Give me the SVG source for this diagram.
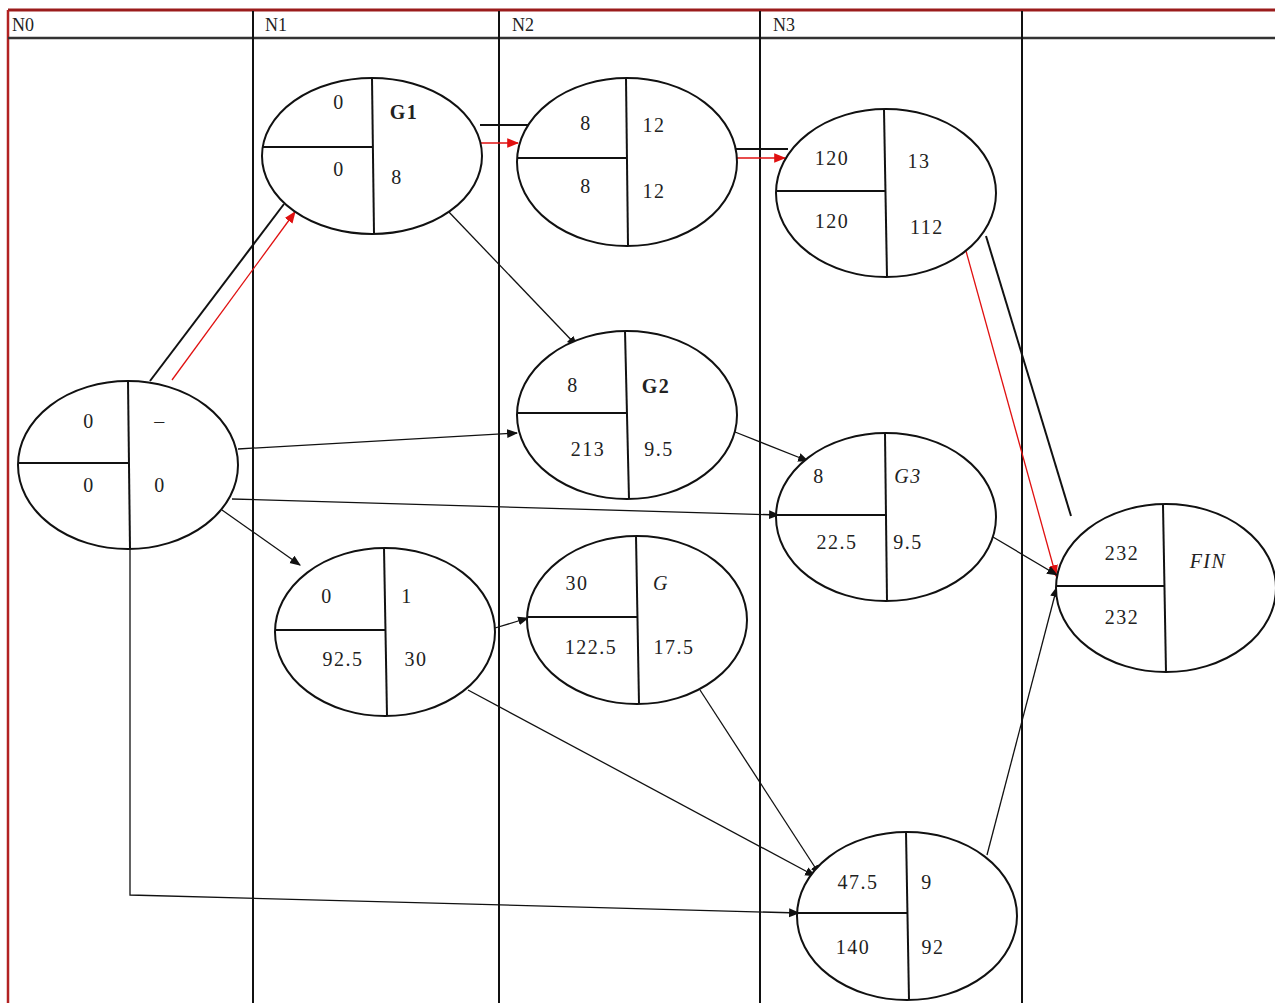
<svg xmlns="http://www.w3.org/2000/svg" width="1275" height="1003" viewBox="0 0 1275 1003">
<style>
.grid{stroke:#111;stroke-width:2;fill:none}
.hdr{font-family:"Liberation Serif",serif;font-size:18px;fill:#222}
.ell{fill:#fff;stroke:#111;stroke-width:2}
.div{stroke:#111;stroke-width:2;fill:none}
.t{font-family:"Liberation Serif",serif;font-size:20px;letter-spacing:1.5px;fill:#222;text-anchor:middle}
.it{font-style:italic}
.c{stroke:#111;stroke-width:1.3;fill:none}
.cb{stroke:#111;stroke-width:2;fill:none}
.r{stroke:#e01010;stroke-width:1.3;fill:none}
</style>
<defs>
<marker id="ab" viewBox="0 0 10 10" refX="9" refY="5" markerWidth="11" markerHeight="11" markerUnits="userSpaceOnUse" orient="auto"><path d="M0,1 L10,5 L0,9 z" fill="#111"/></marker>
<marker id="ar" viewBox="0 0 10 10" refX="9" refY="5" markerWidth="12" markerHeight="12" markerUnits="userSpaceOnUse" orient="auto"><path d="M0,1 L10,5 L0,9 z" fill="#e01010"/></marker>
</defs>
<rect x="0" y="0" width="1275" height="1003" fill="#fff"/>
<g id="frame">
<line x1="8" y1="10" x2="1275" y2="10" stroke="#9b1c1c" stroke-width="3"/>
<line x1="8" y1="10" x2="8" y2="1003" stroke="#b22222" stroke-width="2.5"/>
<line x1="8" y1="38" x2="1275" y2="38" stroke="#333" stroke-width="2.5"/>
<line class="grid" x1="253" y1="11" x2="253" y2="1003"/>
<line class="grid" x1="499" y1="11" x2="499" y2="1003"/>
<line class="grid" x1="760" y1="11" x2="760" y2="1003"/>
<line class="grid" x1="1022" y1="11" x2="1022" y2="1003"/>
<text class="hdr" x="12" y="31">N0</text>
<text class="hdr" x="265" y="31">N1</text>
<text class="hdr" x="512" y="31">N2</text>
<text class="hdr" x="773" y="31">N3</text>
</g>
<g id="connectors">
<line class="cb" x1="150" y1="381" x2="284" y2="204"/>
<line class="r" x1="172" y1="380" x2="295" y2="212" marker-end="url(#ar)"/>
<line class="cb" x1="480" y1="125" x2="528" y2="125"/>
<line class="r" x1="481" y1="143" x2="518" y2="143" marker-end="url(#ar)"/>
<line class="cb" x1="736" y1="149" x2="788" y2="149"/>
<line class="r" x1="736" y1="158" x2="785" y2="158" marker-end="url(#ar)"/>
<line class="cb" x1="986" y1="236" x2="1071" y2="516"/>
<line class="r" x1="966" y1="251" x2="1056" y2="576" marker-end="url(#ar)"/>
<line class="c" x1="447" y1="210" x2="577" y2="346" marker-end="url(#ab)"/>
<line class="c" x1="238" y1="449" x2="517" y2="433" marker-end="url(#ab)"/>
<line class="c" x1="232" y1="499" x2="779" y2="515" marker-end="url(#ab)"/>
<line class="c" x1="222" y1="510" x2="300" y2="565" marker-end="url(#ab)"/>
<polyline class="c" points="130,549 130,895 799,913" marker-end="url(#ab)"/>
<line class="c" x1="735" y1="432" x2="808" y2="461" marker-end="url(#ab)"/>
<line class="c" x1="495" y1="628" x2="528" y2="618" marker-end="url(#ab)"/>
<line class="c" x1="468" y1="690" x2="815" y2="876" marker-end="url(#ab)"/>
<line class="c" x1="700" y1="690" x2="820" y2="875" marker-end="url(#ab)"/>
<line class="c" x1="993" y1="537" x2="1057" y2="575" marker-end="url(#ab)"/>
<line class="c" x1="987" y1="855" x2="1057" y2="587" marker-end="url(#ab)"/>
</g>
<g id="n_start">
<ellipse class="ell" cx="128" cy="465" rx="110" ry="84"/>
<line class="div" x1="128" y1="381" x2="130" y2="549"/>
<line class="div" x1="18" y1="463" x2="129" y2="463"/>
<text class="t" x="89" y="428">0</text>
<text class="t" x="160" y="428">–</text>
<text class="t" x="89" y="492">0</text>
<text class="t" x="160" y="492">0</text>
</g>
<g id="n_g1">
<ellipse class="ell" cx="372" cy="156" rx="110" ry="78"/>
<line class="div" x1="372" y1="78" x2="374" y2="234"/>
<line class="div" x1="262" y1="147" x2="373" y2="147"/>
<text class="t" x="339" y="109">0</text>
<text class="t" x="404" y="119" font-weight="bold">G1</text>
<text class="t" x="339" y="176">0</text>
<text class="t" x="397" y="184">8</text>
</g>
<g id="n_top2">
<ellipse class="ell" cx="627" cy="162" rx="110" ry="84"/>
<line class="div" x1="626" y1="78" x2="628" y2="246"/>
<line class="div" x1="517" y1="158" x2="627" y2="158"/>
<text class="t" x="586" y="130">8</text>
<text class="t" x="654" y="132">12</text>
<text class="t" x="586" y="193">8</text>
<text class="t" x="654" y="198">12</text>
</g>
<g id="n_top3">
<ellipse class="ell" cx="886" cy="193" rx="110" ry="84"/>
<line class="div" x1="884" y1="110" x2="887" y2="277"/>
<line class="div" x1="777" y1="191" x2="885" y2="191"/>
<text class="t" x="832" y="165">120</text>
<text class="t" x="919" y="168">13</text>
<text class="t" x="832" y="228">120</text>
<text class="t" x="927" y="234">112</text>
</g>
<g id="n_g2">
<ellipse class="ell" cx="627" cy="415" rx="110" ry="84"/>
<line class="div" x1="625" y1="331" x2="629" y2="499"/>
<line class="div" x1="517" y1="413" x2="626" y2="413"/>
<text class="t" x="573" y="392">8</text>
<text class="t" x="656" y="393" font-weight="bold">G2</text>
<text class="t" x="588" y="456">213</text>
<text class="t" x="659" y="456">9.5</text>
</g>
<g id="n_g3">
<ellipse class="ell" cx="886" cy="517" rx="110" ry="84"/>
<line class="div" x1="885" y1="433" x2="887" y2="601"/>
<line class="div" x1="777" y1="515" x2="886" y2="515"/>
<text class="t" x="819" y="483">8</text>
<text class="t it" x="908" y="483">G3</text>
<text class="t" x="837" y="549">22.5</text>
<text class="t" x="908" y="549">9.5</text>
</g>
<g id="n_b1">
<ellipse class="ell" cx="385" cy="632" rx="110" ry="84"/>
<line class="div" x1="384" y1="548" x2="387" y2="716"/>
<line class="div" x1="276" y1="630" x2="385" y2="630"/>
<text class="t" x="327" y="603">0</text>
<text class="t" x="407" y="603">1</text>
<text class="t" x="343" y="666">92.5</text>
<text class="t" x="416" y="666">30</text>
</g>
<g id="n_b2">
<ellipse class="ell" cx="637" cy="620" rx="110" ry="84"/>
<line class="div" x1="636" y1="536" x2="639" y2="704"/>
<line class="div" x1="528" y1="617" x2="637" y2="617"/>
<text class="t" x="577" y="590">30</text>
<text class="t it" x="661" y="590">G</text>
<text class="t" x="591" y="654">122.5</text>
<text class="t" x="674" y="654">17.5</text>
</g>
<g id="n_b3">
<ellipse class="ell" cx="907" cy="916" rx="110" ry="84"/>
<line class="div" x1="906" y1="832" x2="909" y2="1000"/>
<line class="div" x1="797" y1="913" x2="907" y2="913"/>
<text class="t" x="858" y="889">47.5</text>
<text class="t" x="927" y="889">9</text>
<text class="t" x="853" y="954">140</text>
<text class="t" x="933" y="954">92</text>
</g>
<g id="n_fin">
<ellipse class="ell" cx="1166" cy="588" rx="110" ry="84"/>
<line class="div" x1="1163" y1="505" x2="1166" y2="672"/>
<line class="div" x1="1057" y1="586" x2="1164" y2="586"/>
<text class="t" x="1122" y="560">232</text>
<text class="t it" x="1208" y="568">FIN</text>
<text class="t" x="1122" y="624">232</text>
</g>
</svg>
